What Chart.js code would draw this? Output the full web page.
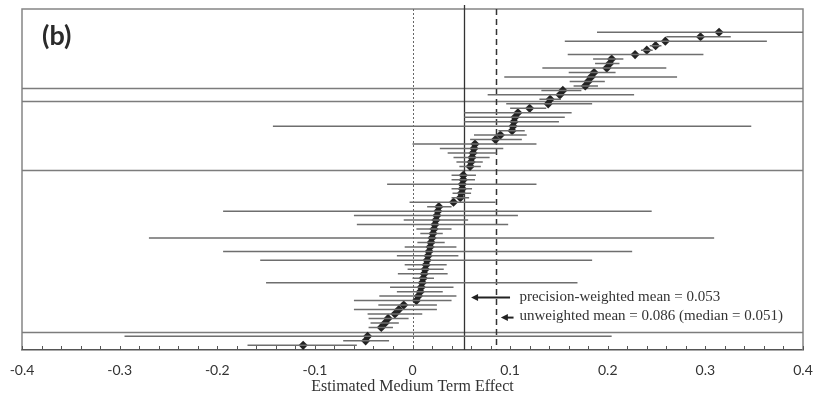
<!DOCTYPE html>
<html>
<head>
<meta charset="utf-8">
<script src="https://cdn.jsdelivr.net/npm/chart.js@4.4.0/dist/chart.umd.min.js"></script>
<style>
  html, body { margin: 0; padding: 0; background: #fff; }
</style>
</head>
<body>
<canvas id="forest" width="818" height="396"></canvas>
<script>
// one row per study, top to bottom (null = separator row)
var estimates = [
  0.314, 0.295, 0.259, 0.249, 0.240, 0.228, 0.204, 0.202, 0.199, 0.186,
  0.183, 0.180, 0.177, 0.154, 0.151, 0.141, 0.139, 0.120, 0.108, 0.105,
  0.104, 0.103, 0.102, 0.090, 0.085, 0.064, 0.063, 0.062, 0.061, 0.060,
  0.059, null, 0.052, 0.052, 0.051, 0.051, 0.050, 0.049, 0.042, 0.027,
  0.026, 0.025, 0.024, 0.023, 0.022, 0.021, 0.020, 0.019, 0.018, 0.017,
  0.016, 0.015, 0.014, 0.013, 0.012, 0.011, 0.010, 0.009, 0.008, 0.006,
  0.004, -0.009, -0.014, -0.018, -0.025, -0.028, -0.032, null, -0.046, -0.048,
  -0.112
];
var lowerBounds = [
  0.189, 0.260, 0.156, 0.243, 0.234, 0.159, 0.185, 0.187, 0.133, 0.160,
  0.094, 0.161, 0.165, 0.132, 0.077, 0.130, 0.096, 0.100, 0.053, 0.053,
  0.053, -0.143, 0.088, 0.063, 0.059, 0.000, 0.028, 0.036, 0.042, 0.045,
  0.048, null, 0.040, 0.040, -0.026, 0.040, 0.041, 0.040, -0.003, 0.015,
  -0.194, -0.060, -0.009, -0.057, 0.004, 0.008, -0.270, 0.005, -0.008, -0.194,
  -0.016, -0.156, -0.008, -0.005, -0.015, 0.000, -0.150, -0.023, -0.016, -0.034,
  -0.060, -0.035, -0.060, -0.046, -0.045, -0.043, -0.045, null, -0.295, -0.071,
  -0.169
];
var upperBounds = [
  0.450, 0.326, 0.363, 0.255, 0.246, 0.298, 0.216, 0.212, 0.260, 0.208,
  0.271, 0.197, 0.190, 0.173, 0.227, 0.152, 0.184, 0.137, 0.163, 0.156,
  0.150, 0.347, 0.115, 0.117, 0.112, 0.127, 0.093, 0.086, 0.079, 0.072,
  0.070, null, 0.065, 0.064, 0.127, 0.061, 0.060, 0.058, 0.085, 0.040,
  0.245, 0.108, 0.057, 0.098, 0.040, 0.031, 0.309, 0.033, 0.045, 0.225,
  0.047, 0.184, 0.035, 0.032, 0.036, 0.022, 0.169, 0.042, 0.031, 0.045,
  0.040, 0.025, 0.025, 0.010, -0.004, -0.014, -0.020, null, 0.204, -0.024,
  -0.057
];
var separatorRows = [12.37, 15.36, 30.87, 66.96];
var tickLabels = ['-0.4', '-0.3', '-0.2', '-0.1', '0', '0.1', '0.2', '0.3', '0.4'];
var precisionMean = 0.053;
var unweightedMean = 0.086;
var medianEffect = 0.051;

var notes = [
  { text: 'precision-weighted mean = ' + precisionMean.toFixed(3), row: 59.3, from: 0.0999, to: 0.0600 },
  { text: 'unweighted mean = ' + unweightedMean.toFixed(3) + ' (median = ' + medianEffect.toFixed(3) + ')', row: 63.8, from: 0.1035, to: 0.0905 }
];

var whiskers = [];
var points = [];
for (var i = 0; i < estimates.length; i++) {
  if (estimates[i] === null) continue;
  whiskers.push({ x: lowerBounds[i], y: i });
  whiskers.push({ x: upperBounds[i], y: i });
  whiskers.push({ x: null, y: null });
  points.push({ x: estimates[i], y: i });
}

var extras = {
  id: 'extras',
  beforeDatasetsDraw: function (chart) {
    var ctx = chart.ctx;
    var a = chart.chartArea;
    var sx = chart.scales.x;
    var sy = chart.scales.y;
    ctx.save();

    // frame
    ctx.strokeStyle = '#858585';
    ctx.lineWidth = 1.5;
    ctx.beginPath();
    ctx.moveTo(a.left, a.bottom);
    ctx.lineTo(a.left, a.top);
    ctx.lineTo(a.right, a.top);
    ctx.lineTo(a.right, a.bottom);
    ctx.stroke();

    // group separators
    ctx.strokeStyle = '#7c7c7c';
    ctx.lineWidth = 1.4;
    separatorRows.forEach(function (r) {
      var py = Math.round(sy.getPixelForValue(r)) + 0.5;
      ctx.beginPath();
      ctx.moveTo(a.left, py);
      ctx.lineTo(a.right, py);
      ctx.stroke();
    });

    // reference lines
    var x0 = Math.round(sx.getPixelForValue(0)) + 0.5;
    ctx.strokeStyle = '#666';
    ctx.lineWidth = 1;
    ctx.setLineDash([2, 2]);
    ctx.beginPath();
    ctx.moveTo(x0, a.top);
    ctx.lineTo(x0, a.bottom);
    ctx.stroke();

    var xp = Math.round(sx.getPixelForValue(precisionMean)) + 0.5;
    ctx.setLineDash([]);
    ctx.strokeStyle = '#333';
    ctx.lineWidth = 1.3;
    ctx.beginPath();
    ctx.moveTo(xp, a.top - 4);
    ctx.lineTo(xp, a.bottom);
    ctx.stroke();

    var xu = Math.round(sx.getPixelForValue(unweightedMean)) + 0.5;
    ctx.setLineDash([6, 4]);
    ctx.lineWidth = 1.5;
    ctx.beginPath();
    ctx.moveTo(xu, a.top);
    ctx.lineTo(xu, a.bottom);
    ctx.stroke();
    ctx.setLineDash([]);

    // minor ticks pointing up
    ctx.strokeStyle = '#555';
    ctx.lineWidth = 1;
    for (var t = 0; t <= 40; t++) {
      var tx = Math.round(sx.getPixelForValue(-0.4 + t * 0.02)) + 0.5;
      ctx.beginPath();
      ctx.moveTo(tx, a.bottom);
      ctx.lineTo(tx, a.bottom - 4);
      ctx.stroke();
    }

    // panel label
    ctx.fillStyle = '#2a2a2a';
    ctx.font = 'bold 27px Lato';
    ctx.textBaseline = 'middle';
    ctx.fillText('(b)', a.left + 20, a.top + 27);
    ctx.restore();
  },
  afterDatasetsDraw: function (chart) {
    var ctx = chart.ctx;
    var sx = chart.scales.x;
    var sy = chart.scales.y;
    ctx.save();
    notes.forEach(function (n, k) {
      var py = sy.getPixelForValue(n.row);
      var x1 = sx.getPixelForValue(n.from);
      var x2 = sx.getPixelForValue(n.to);
      ctx.strokeStyle = '#222';
      ctx.fillStyle = '#222';
      ctx.lineWidth = 2;
      ctx.beginPath();
      ctx.moveTo(x1, py);
      ctx.lineTo(x2 + 5, py);
      ctx.stroke();
      ctx.beginPath();
      ctx.moveTo(x2, py);
      ctx.lineTo(x2 + 7, py - 3.5);
      ctx.lineTo(x2 + 7, py + 3.5);
      ctx.closePath();
      ctx.fill();
      ctx.fillStyle = '#333';
      ctx.font = '15px "Liberation Serif"';
      ctx.textBaseline = 'middle';
      ctx.fillText(n.text, sx.getPixelForValue(0.1095), py - (k === 1 ? 2 : 0));
    });
    ctx.restore();
  }
};

new Chart(document.getElementById('forest'), {
  type: 'scatter',
  data: {
    datasets: [
      {
        type: 'line',
        data: whiskers,
        showLine: true,
        spanGaps: false,
        borderColor: '#6e6e6e',
        borderWidth: 1.5,
        pointRadius: 0
      },
      {
        data: points,
        pointStyle: 'rectRot',
        pointRadius: 4.6,
        backgroundColor: '#222',
        borderWidth: 0
      }
    ]
  },
  options: {
    responsive: false,
    animation: false,
    layout: { padding: { left: 22, right: 15, top: 9, bottom: 0 } },
    plugins: { legend: { display: false }, tooltip: { enabled: false } },
    scales: {
      x: {
        type: 'linear',
        min: -0.4,
        max: 0.4,
        grid: { display: false, drawTicks: false },
        border: { display: true, color: '#555', width: 1.5 },
        ticks: {
          stepSize: 0.1,
          padding: 12,
          color: '#333',
          font: { family: 'Lato', size: 14 },
          callback: function (v) {
            return tickLabels[Math.round((v + 0.4) * 10)];
          }
        },
        title: {
          display: true,
          text: 'Estimated Medium Term Effect',
          color: '#333',
          font: { family: 'Liberation Serif', size: 16 },
          padding: { top: 0, bottom: 0 }
        },
        afterFit: function (scale) {
          scale.height = 46;
          scale.paddingLeft = 0;
          scale.paddingRight = 0;
        }
      },
      y: {
        type: 'linear',
        display: false,
        reverse: true,
        min: -5.2,
        max: 71.05
      }
    }
  },
  plugins: [extras]
});
</script>
</body>
</html>
